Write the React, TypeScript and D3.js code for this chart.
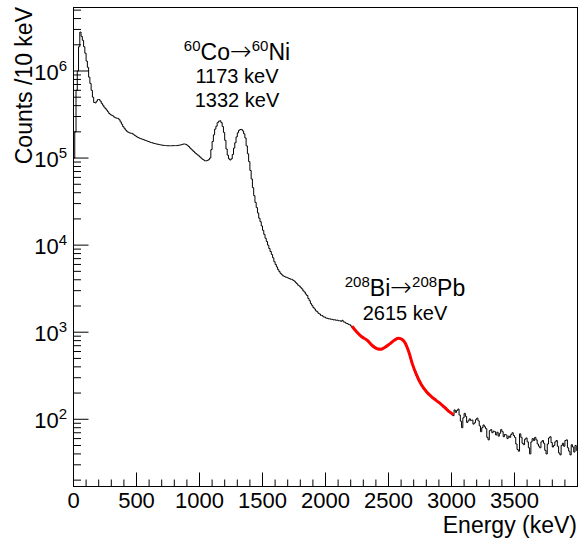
import * as d3 from 'd3';

// spectrum, 10 keV bins from 0 to 4000 keV
const binWidth = 10;
const counts = [
  100000, 200000, 600000, 1000000, 1900000, 2800000, 2500000, 2250000, 1900000, 1600000,
  1300000, 1100000, 850000, 720000, 600000, 500000, 435000, 430000, 450000, 470000,
  470000, 450000, 425000, 405000, 385000, 370000, 355000, 340000, 325000, 315000,
  310000, 305000, 295000, 290000, 287000, 285000, 275000, 260000, 245000, 230000,
  220000, 210000, 203000, 198000, 195000, 193000, 192000, 188000, 183000, 179000,
  175000, 172000, 169000, 167000, 165000, 163000, 161000, 159000, 157000, 155000,
  153000, 151000, 150000, 148000, 147000, 145500, 144500, 143500, 142500, 141500,
  140500, 140000, 139500, 139000, 138500, 138500, 138500, 138500, 138500, 139000,
  139000, 139000, 139500, 140000, 141000, 142000, 143500, 145000, 145000, 143000,
  140000, 136000, 131000, 127000, 123000, 119000, 115000, 112000, 109000, 106000,
  103000, 100000, 97000, 95000, 93000, 93000, 94000, 96000, 100000, 125000,
  155000, 185000, 215000, 232000, 255000, 265000, 268000, 255000, 230000, 197000,
  160000, 127000, 108000, 98000, 95000, 98000, 110000, 130000, 150000, 175000,
  195000, 208000, 213000, 213000, 205000, 190000, 170000, 138000, 112000, 91000,
  72000, 57500, 45700, 37000, 31000, 27000, 23400, 20400, 18600, 16600,
  14800, 13300, 12000, 11000, 10000, 9150, 8450, 7800, 7150, 6450,
  6000, 5620, 5230, 4960, 4730, 4580, 4440, 4370, 4290, 4260,
  4180, 4130, 4060, 4040, 3940, 3860, 3710, 3600, 3460, 3380,
  3250, 3150, 2990, 2890, 2740, 2640, 2440, 2300, 2130, 2030,
  1920, 1850, 1760, 1720, 1650, 1620, 1560, 1550, 1500, 1490,
  1455, 1445, 1425, 1425, 1405, 1405, 1385, 1390, 1370, 1375,
  1355, 1355, 1335, 1370, 1315, 1300, 1265, 1255, 1225, 1215,
  1175, 1150, 1090, 1045, 1025, 1000, 950, 925, 880, 878,
  848, 840, 808, 785, 770, 750, 712, 683, 675, 662,
  642, 643, 630, 640, 642, 658, 660, 672, 688, 700,
  732, 745, 780, 790, 822, 828, 850, 850, 855, 838,
  835, 815, 770, 748, 685, 630, 575, 500, 448, 410,
  365, 350, 314, 290, 278, 264, 240, 226, 224, 216,
  201, 193, 194, 188, 177, 172, 173, 170, 160, 155,
  156, 153, 143, 138, 139, 136, 127, 122, 123, 120,
  113, 110, 128, 120, 126, 131, 112, 95, 80, 104,
  117, 108, 92, 96, 101, 97, 98, 88, 91, 99,
  103, 96, 84, 72, 80, 86, 82, 78, 62, 58,
  74, 76, 70, 73, 72, 66, 71, 64, 69, 76,
  72, 63, 67, 66, 60, 64, 62, 67, 70, 65,
  62, 52, 45, 43, 68, 62, 53, 51, 59, 61,
  55, 47, 40, 55, 60, 57, 62, 58, 52, 49,
  47, 55, 57, 53, 44, 40, 52, 61, 63, 54,
  48, 50, 55, 57, 49, 41, 39, 50, 53, 49,
  57, 58, 47, 43, 39, 51, 48, 42, 50, 44,
];

// fitted curve around the 2615 keV line
const fitEnergy = [2210, 2250, 2290, 2330, 2370, 2410, 2440, 2470, 2510, 2550, 2580, 2600, 2630, 2660, 2690, 2720, 2760, 2800, 2850, 2900, 2950, 2990, 3016];
const fitCounts = [1170, 1000, 880, 810, 705, 645, 636, 668, 735, 815, 850, 838, 760, 600, 430, 330, 250, 208, 177, 156, 135, 120, 113];

const xTickValues = [0, 500, 1000, 1500, 2000, 2500, 3000, 3500];
const yTickExponents = [2, 3, 4, 5, 6];

const font = 'Liberation Sans, Arial, Helvetica, sans-serif';
const arrowFont = 'DejaVu Sans, sans-serif';

const frame = { left: 73.5, right: 577.5, top: 7.5, bottom: 486.5 };

export default function App() {
  const x = d3.scaleLinear().domain([0, 4000]).range([frame.left, frame.right]);
  const y = d3.scaleLog().domain([16.9, 5.36e6]).range([frame.bottom, frame.top]);

  const pts: [number, number][] = [[0, y.domain()[0]]];
  counts.forEach((c, i) => pts.push([i * binWidth, c]));
  pts.push([counts.length * binWidth, counts[counts.length - 1]]);

  const histLine = d3.line<[number, number]>()
    .x(d => x(d[0]))
    .y(d => y(d[1]))
    .curve(d3.curveStepAfter);

  const fitLine = d3.line<number>()
    .x(d => x(d))
    .y((d, i) => y(fitCounts[i]))
    .curve(d3.curveMonotoneX);

  // minor ticks
  const xMinor = d3.range(100, 4000, 100).filter(v => v % 500 !== 0);
  const yMinor: number[] = [];
  for (let e = 1; e <= 6; e++) {
    for (let m = 2; m <= 9; m++) {
      const v = m * Math.pow(10, e);
      if (v > y.domain()[0] && v < y.domain()[1]) yMinor.push(v);
    }
  }

  return (
    <svg width={578} height={543} style={{ position: 'absolute', left: 0, top: 0, background: '#fff' }} fontFamily={font}>
      <defs>
        <clipPath id="frameClip">
          <rect x={frame.left} y={frame.top} width={frame.right - frame.left} height={frame.bottom - frame.top} />
        </clipPath>
      </defs>
      <rect x={0} y={0} width={578} height={543} fill="#fff" />

      <g clipPath="url(#frameClip)">
        <path d={histLine(pts) || ''} fill="none" stroke="#000" strokeWidth={1} />
        <path d={fitLine(fitEnergy) || ''} fill="none" stroke="#ff0000" strokeWidth={3} />
      </g>

      {/* frame */}
      <rect x={frame.left} y={frame.top} width={frame.right - frame.left} height={frame.bottom - frame.top}
        fill="none" stroke="#000" strokeWidth={1} />

      {/* x ticks */}
      {xTickValues.map(v => (
        <g key={'xt' + v}>
          <line x1={x(v)} x2={x(v)} y1={frame.bottom} y2={frame.bottom - 14} stroke="#000" />
          <text x={x(v)} y={508} fontSize={22} textAnchor="middle">{v}</text>
        </g>
      ))}
      {xMinor.map(v => (
        <line key={'xm' + v} x1={x(v)} x2={x(v)} y1={frame.bottom} y2={frame.bottom - 7} stroke="#000" />
      ))}

      {/* y ticks */}
      {yTickExponents.map(k => (
        <g key={'yt' + k}>
          <line x1={frame.left} x2={frame.left + 15} y1={y(Math.pow(10, k))} y2={y(Math.pow(10, k))} stroke="#000" />
          <text x={67} y={y(Math.pow(10, k)) + 9} fontSize={22} textAnchor="end">
            10<tspan fontSize={15} dy={-9}>{k}</tspan>
          </text>
        </g>
      ))}
      {yMinor.map(v => (
        <line key={'ym' + v} x1={frame.left} x2={frame.left + 7.5} y1={y(v)} y2={y(v)} stroke="#000" />
      ))}

      {/* axis titles */}
      <text transform="translate(32,7) rotate(-90)" fontSize={23} textAnchor="end">Counts /10 keV</text>
      <text x={577} y={533} fontSize={23} textAnchor="end">Energy (keV)</text>

      {/* annotations */}
      <text x={237} y={60} fontSize={23} textAnchor="middle">
        <tspan fontSize={15} dy={-9}>60</tspan><tspan dy={9}>Co</tspan>
        <tspan fontFamily={arrowFont} fontSize={26} fontWeight={300}>→</tspan>
        <tspan fontSize={15} dy={-9}>60</tspan><tspan dy={9}>Ni</tspan>
      </text>
      <text x={237} y={83} fontSize={20} textAnchor="middle">1173 keV</text>
      <text x={237} y={107} fontSize={20} textAnchor="middle">1332 keV</text>

      <text x={405} y={296} fontSize={23} textAnchor="middle">
        <tspan fontSize={15} dy={-9}>208</tspan><tspan dy={9}>Bi</tspan>
        <tspan fontFamily={arrowFont} fontSize={26} fontWeight={300}>→</tspan>
        <tspan fontSize={15} dy={-9}>208</tspan><tspan dy={9}>Pb</tspan>
      </text>
      <text x={405} y={320} fontSize={20} textAnchor="middle">2615 keV</text>
    </svg>
  );
}
